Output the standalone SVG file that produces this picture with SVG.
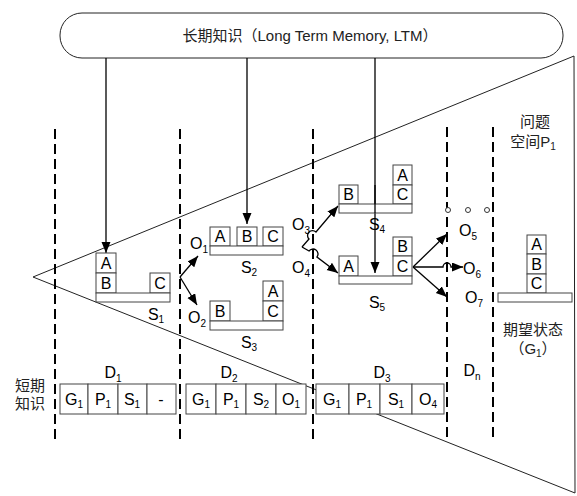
<svg xmlns="http://www.w3.org/2000/svg" width="577" height="496" viewBox="0 0 577 496">
<style>
.ln{stroke:#222;stroke-width:1;fill:none}
.dash{stroke:#000;stroke-width:2;stroke-dasharray:10 5;fill:none}
.box{fill:#fff;stroke:#444;stroke-width:1}
.arr{stroke:#000;stroke-width:1.3;fill:none}
.t{font-family:"Liberation Sans","Noto Sans CJK SC",sans-serif;font-size:16px;fill:#000;text-anchor:middle}
.l{font-family:"Liberation Sans","Noto Sans CJK SC",sans-serif;font-size:16px;fill:#000}
.cn{font-family:"Liberation Sans","Noto Sans CJK SC",sans-serif;font-size:15px;fill:#222;text-anchor:middle}
.sub{font-size:10px}
</style>
<defs>
<marker id="ah" markerUnits="userSpaceOnUse" markerWidth="12" markerHeight="10" refX="11" refY="4.5" orient="auto">
<path d="M0,0 L11,4.5 L0,9 z" fill="#000"/>
</marker>
</defs>
<rect width="577" height="496" fill="#fff"/>

<g id="problem-space">
<path class="ln" d="M33,277 L574,56 L575,493 Z"/>
<text class="cn" x="535" y="127">问题</text>
<text class="cn" x="533" y="147">空间P<tspan class="sub" dy="3">1</tspan></text>
</g>

<g id="dividers">
<line class="dash" x1="55" y1="129" x2="55" y2="440"/>
<line class="dash" x1="180" y1="129" x2="180" y2="440"/>
<line class="dash" x1="313" y1="129" x2="313" y2="440"/>
<line class="dash" x1="447" y1="127" x2="447" y2="437"/>
<line class="dash" x1="493" y1="127" x2="493" y2="437"/>
</g>

<g id="ltm">
<rect x="60" y="13" width="503" height="45" rx="22" ry="22" fill="#fff" stroke="#222" stroke-width="1"/>
<text class="cn" x="310" y="41" style="font-size:15px">长期知识（Long Term Memory, LTM）</text>
</g>

<g id="connectors">
<line class="arr" x1="106" y1="58" x2="106" y2="253" marker-end="url(#ah)"/>
<line class="arr" x1="247" y1="58" x2="247" y2="224" marker-end="url(#ah)"/>
<line class="arr" x1="375" y1="58" x2="375" y2="273" marker-end="url(#ah)"/>
<line class="arr" x1="180" y1="277" x2="198" y2="256" marker-end="url(#ah)"/>
<line class="arr" x1="180" y1="277" x2="197" y2="305" marker-end="url(#ah)"/>
<path class="arr" d="M302,247 L309,239 A4.5,4.5 0 0 1 316,232 L338,206" marker-end="url(#ah)"/>
<path class="arr" d="M302,247 L309,251 A4.5,4.5 0 0 1 317,257 L338,273" marker-end="url(#ah)"/>
<line class="arr" x1="413" y1="267" x2="447" y2="234" marker-end="url(#ah)"/>
<path class="arr" d="M413,267 L443,267 A4,4 0 0 1 451,267 L463,267" marker-end="url(#ah)"/>
<line class="arr" x1="413" y1="267" x2="447" y2="297" marker-end="url(#ah)"/>
</g>

<g id="s1">
<rect class="box" x="96" y="253" width="20" height="20"/>
<rect class="box" x="96" y="273" width="20" height="20"/>
<rect class="box" x="150" y="273" width="20" height="20"/>
<rect class="box" x="96" y="293" width="74" height="9"/>
<text class="t" x="106" y="269">A</text>
<text class="t" x="106" y="289">B</text>
<text class="t" x="160" y="289">C</text>
<text class="t" x="156" y="320">S<tspan class="sub" dy="3">1</tspan></text>
</g>

<g id="s2">
<rect class="box" x="210" y="227" width="20" height="19"/>
<rect class="box" x="237" y="227" width="20" height="19"/>
<rect class="box" x="263" y="227" width="20" height="19"/>
<rect class="box" x="210" y="246" width="73" height="9"/>
<text class="t" x="220" y="242">A</text>
<text class="t" x="247" y="242">B</text>
<text class="t" x="273" y="242">C</text>
<text class="t" x="249" y="273">S<tspan class="sub" dy="3">2</tspan></text>
</g>

<g id="s3">
<rect class="box" x="210" y="301" width="20" height="20"/>
<rect class="box" x="263" y="281" width="20" height="20"/>
<rect class="box" x="263" y="301" width="20" height="20"/>
<rect class="box" x="210" y="321" width="73" height="9"/>
<text class="t" x="220" y="317">B</text>
<text class="t" x="273" y="297">A</text>
<text class="t" x="273" y="317">C</text>
<text class="t" x="249" y="348">S<tspan class="sub" dy="3">3</tspan></text>
</g>

<g id="s4">
<rect class="box" x="339" y="185" width="19" height="19"/>
<rect class="box" x="393" y="165" width="19" height="20"/>
<rect class="box" x="393" y="185" width="19" height="19"/>
<rect class="box" x="339" y="204" width="73" height="9"/>
<line class="arr" x1="375" y1="185" x2="375" y2="213"/>
<text class="t" x="348.5" y="200">B</text>
<text class="t" x="402.5" y="181">A</text>
<text class="t" x="402.5" y="200">C</text>
<text class="t" x="377" y="230">S<tspan class="sub" dy="3">4</tspan></text>
</g>

<g id="s5">
<rect class="box" x="339" y="256" width="19" height="20"/>
<rect class="box" x="393" y="237" width="19" height="19"/>
<rect class="box" x="393" y="256" width="19" height="20"/>
<rect class="box" x="339" y="276" width="73" height="8"/>
<text class="t" x="348.5" y="272">A</text>
<text class="t" x="402.5" y="252">B</text>
<text class="t" x="402.5" y="272">C</text>
<text class="t" x="377" y="308">S<tspan class="sub" dy="3">5</tspan></text>
</g>

<g id="goal">
<rect class="box" x="527" y="235" width="19" height="19"/>
<rect class="box" x="527" y="254" width="19" height="20"/>
<rect class="box" x="527" y="274" width="19" height="19"/>
<rect class="box" x="498" y="293" width="74" height="9"/>
<text class="t" x="536.5" y="250">A</text>
<text class="t" x="536.5" y="270">B</text>
<text class="t" x="536.5" y="289">C</text>
<text class="cn" x="533" y="335">期望状态</text>
<text class="cn" x="533" y="354">（G<tspan class="sub" dy="3">1</tspan><tspan dy="-3">）</tspan></text>
</g>

<g id="operators">
<text class="l" x="190" y="249">O<tspan class="sub" dy="4">1</tspan></text>
<text class="l" x="188" y="323">O<tspan class="sub" dy="4">2</tspan></text>
<text class="l" x="292" y="230">O<tspan class="sub" dy="4">3</tspan></text>
<text class="l" x="292" y="273">O<tspan class="sub" dy="4">4</tspan></text>
<text class="l" x="459" y="236">O<tspan class="sub" dy="4">5</tspan></text>
<text class="l" x="463" y="274">O<tspan class="sub" dy="4">6</tspan></text>
<text class="l" x="465" y="303">O<tspan class="sub" dy="4">7</tspan></text>
<circle cx="448" cy="210" r="2.5" fill="#fff" stroke="#333" stroke-width="1"/>
<circle cx="468" cy="210" r="2.5" fill="#fff" stroke="#333" stroke-width="1"/>
<circle cx="487" cy="210" r="2.5" fill="#fff" stroke="#333" stroke-width="1"/>
</g>

<g id="stm">
<text class="cn" x="30" y="391">短期</text>
<text class="cn" x="30" y="409">知识</text>
<text class="t" x="113" y="378">D<tspan class="sub" dy="4">1</tspan></text>
<text class="t" x="229" y="378">D<tspan class="sub" dy="4">2</tspan></text>
<text class="t" x="382" y="378">D<tspan class="sub" dy="4">3</tspan></text>
<text class="t" x="472" y="376">D<tspan class="sub" dy="4">n</tspan></text>
<g id="d1-cells">
<rect class="box" x="60" y="384" width="28" height="30"/>
<rect class="box" x="88" y="384" width="30" height="30"/>
<rect class="box" x="118" y="384" width="29" height="30"/>
<rect class="box" x="147" y="384" width="29" height="30"/>
<text class="t" x="74" y="405">G<tspan class="sub" dy="3">1</tspan></text>
<text class="t" x="103" y="405">P<tspan class="sub" dy="3">1</tspan></text>
<text class="t" x="132" y="405">S<tspan class="sub" dy="3">1</tspan></text>
<text class="t" x="161" y="405">-</text>
</g>
<g id="d2-cells">
<rect class="box" x="186" y="384" width="30" height="30"/>
<rect class="box" x="216" y="384" width="30" height="30"/>
<rect class="box" x="246" y="384" width="30" height="30"/>
<rect class="box" x="276" y="384" width="30" height="30"/>
<text class="t" x="201" y="405">G<tspan class="sub" dy="3">1</tspan></text>
<text class="t" x="231" y="405">P<tspan class="sub" dy="3">1</tspan></text>
<text class="t" x="261" y="405">S<tspan class="sub" dy="3">2</tspan></text>
<text class="t" x="291" y="405">O<tspan class="sub" dy="3">1</tspan></text>
</g>
<g id="d3-cells">
<rect class="box" x="316" y="384" width="33" height="30"/>
<rect class="box" x="349" y="384" width="31" height="30"/>
<rect class="box" x="380" y="384" width="32" height="30"/>
<rect class="box" x="412" y="384" width="32" height="30"/>
<text class="t" x="332" y="405">G<tspan class="sub" dy="3">1</tspan></text>
<text class="t" x="364" y="405">P<tspan class="sub" dy="3">1</tspan></text>
<text class="t" x="396" y="405">S<tspan class="sub" dy="3">1</tspan></text>
<text class="t" x="428" y="405">O<tspan class="sub" dy="3">4</tspan></text>
</g>
</g>
</svg>
